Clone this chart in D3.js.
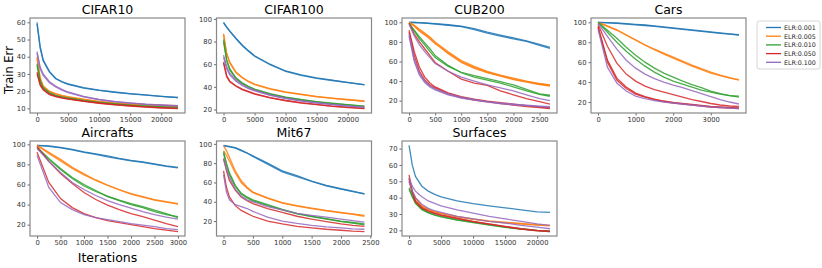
<!DOCTYPE html>
<html>
<head>
<meta charset="utf-8">
<script src="https://cdn.jsdelivr.net/npm/d3@7"></script>
<style>
  body { margin: 0; background: #fff; }
  text { font-family: "DejaVu Sans", sans-serif; }
</style>
</head>
<body>
<div class="chart"></div>
<script>
// ELR series shared by every panel
var elrLabels = ["ELR:0.001", "ELR:0.005", "ELR:0.010", "ELR:0.050", "ELR:0.100"];
var elrColors = ["#1f77b4", "#ff7f0e", "#2ca02c", "#d62728", "#9467bd"];

// Training error per dataset: one entry per ELR, each holding the runs
var cifar10Iter = [0, 500, 1000, 2000, 3000, 4000, 5000, 7500, 10000, 12500, 15000, 17500, 20000, 22700];
var cifar10Err = [
  [[60, 46, 38, 31.5, 27.5, 25.5, 24.2, 22, 20.6, 19.5, 18.6, 17.8, 17, 16.3],
   [59, 45, 37.5, 31, 27.2, 25.3, 24, 21.8, 20.4, 19.3, 18.4, 17.7, 16.9, 16.2]],
  [[40, 28, 23, 20, 18.5, 17.5, 16.8, 15.3, 14, 13.2, 12.6, 12.2, 11.8, 11.5],
   [39, 27, 22.5, 19.7, 18.2, 17.2, 16.5, 15, 13.8, 12.9, 12.3, 11.9, 11.5, 11.2]],
  [[36, 26, 22, 19, 17.5, 16.7, 16, 14.6, 13.5, 12.6, 11.9, 11.3, 10.9, 10.6],
   [35, 25.5, 21.7, 18.8, 17.3, 16.5, 15.8, 14.4, 13.3, 12.4, 11.7, 11.2, 10.8, 10.4]],
  [[31, 24, 21, 18.2, 17, 16.2, 15.5, 14.2, 13.1, 12.2, 11.5, 10.9, 10.4, 10],
   [30, 23.5, 20.7, 18, 16.8, 16, 15.3, 14, 12.9, 12, 11.3, 10.7, 10.2, 9.8]],
  [[43, 34, 30, 25.5, 23, 21, 19.5, 17, 15.2, 14, 13.2, 12.5, 12, 11.5],
   [42, 33, 29, 24.8, 22.4, 20.5, 19.1, 16.7, 15, 13.8, 13, 12.3, 11.8, 11.3]]
];

var cifar100Iter = [0, 500, 1000, 2000, 3000, 4000, 5000, 7500, 10000, 12500, 15000, 17500, 20000, 22700];
var cifar100Err = [
  [[97, 93, 89.5, 83, 77, 72, 67.5, 60, 54, 50.5, 48, 46, 44, 42],
   [96.5, 92.5, 89, 82.5, 76.5, 71.5, 67, 59.5, 53.7, 50.2, 47.5, 45.6, 43.7, 41.8]],
  [[87, 70, 62, 53, 48.5, 45, 42.5, 38.5, 35.5, 33.5, 31.5, 30, 28.8, 27.5],
   [86, 69, 61, 52.3, 48, 44.5, 42, 38, 35.2, 33.2, 31.2, 29.8, 28.5, 27.2]],
  [[82, 64, 56, 48, 43.5, 40.5, 38, 34, 31, 28.8, 27, 25.5, 24.2, 23],
   [80, 63, 55, 47.3, 43, 40, 37.5, 33.6, 30.6, 28.5, 26.7, 25.2, 24, 22.7]],
  [[62, 50, 45, 41, 38, 36, 34, 30.5, 28, 26, 24.5, 23, 22, 21],
   [61, 49, 44.5, 40.5, 37.5, 35.5, 33.6, 30.2, 27.7, 25.7, 24.2, 22.8, 21.7, 20.7]],
  [[68, 58, 52, 46, 42, 39, 37, 33, 30, 27.8, 26, 24.5, 23.2, 22],
   [66, 56, 50.5, 45, 41.2, 38.4, 36.4, 32.5, 29.6, 27.4, 25.7, 24.2, 23, 21.8]]
];

var cub200Iter = [0, 100, 200, 300, 400, 500, 750, 1000, 1250, 1500, 1750, 2000, 2250, 2500, 2700];
var cub200Err = [
  [[100, 99.8, 99.6, 99.3, 99, 98.6, 97.5, 96, 93.5, 90, 87, 84, 81, 77.5, 74.5],
   [100, 99.8, 99.5, 99.2, 98.8, 98.3, 97, 95.5, 92.5, 89, 86, 83, 80.5, 76.5, 73.5]],
  [[100, 97, 93, 89, 85, 80, 70, 61, 55, 50, 46, 43, 40, 37.5, 36],
   [100, 96, 91, 87, 83, 78, 69, 60, 54, 49, 45.5, 42, 39.5, 37, 35.5],
   [100, 96.5, 92, 88, 84, 79, 68, 59, 53, 48.5, 45, 41.5, 39, 36.5, 34.8]],
  [[99, 92, 85, 79, 73, 66, 56, 48.5, 44, 41, 38, 34, 30, 26.5, 24.5],
   [99, 91, 83, 77, 70, 64, 55, 49, 45.5, 42.5, 39.5, 36, 31.5, 27, 25.5]],
  [[99, 88, 80, 73, 66, 59, 50, 42, 38, 35.5, 30, 26, 22, 19, 16.5],
   [92, 70, 54, 44, 38, 34, 28, 24, 21.5, 19.5, 18, 16.5, 15, 13.5, 12.5],
   [90, 66, 50, 41, 36, 33, 27, 23, 20.5, 19, 17, 15.5, 14, 13, 11.8]],
  [[98, 86, 77, 70, 64, 58, 50, 44, 40, 36, 33, 30, 26, 22, 20],
   [88, 62, 48, 40, 35, 32, 27, 23.5, 21, 19, 17.5, 16.5, 15.5, 14.5, 13.8],
   [86, 60, 46, 38.5, 34, 31, 26, 22.5, 20.5, 18.5, 17, 15.8, 15, 14, 13.2]]
];

var carsIter = [0, 250, 500, 750, 1000, 1250, 1500, 1750, 2000, 2250, 2500, 2750, 3000, 3250, 3500, 3750];
var carsErr = [
  [[100, 99.7, 99.3, 98.7, 98, 97.3, 96.5, 95.5, 94.5, 93.5, 92.5, 91.5, 90.5, 89.5, 88.5, 87.5],
   [100, 99.5, 99, 98.3, 97.5, 96.8, 96, 95, 94, 93, 92, 91, 90, 89, 88.2, 87.2]],
  [[100, 96.5, 92.5, 87.5, 82.5, 77.5, 73, 69, 65, 61, 57, 53.5, 50, 47, 44.5, 42],
   [100, 96, 92, 87, 82, 77, 72.5, 68, 64, 60, 56, 52.5, 49, 46.5, 44, 42.5]],
  [[100, 92, 84, 75, 67, 60, 54, 49, 45, 41, 37.5, 34.5, 31, 28.5, 26.5, 25],
   [100, 90, 80, 71, 63, 56, 50, 45, 41, 38, 35, 32, 30, 28, 26.5, 26]],
  [[98, 76, 59, 48, 41, 36, 32.5, 30, 27.5, 25, 22.5, 20.5, 18.5, 17, 16, 15.5],
   [96, 62, 44, 35, 29, 25.5, 23, 21, 19.5, 18.5, 17.5, 16.5, 15.5, 15, 14.5, 14],
   [95, 60, 42, 33.5, 28, 25, 22.5, 20.5, 19, 18, 17, 16, 15, 14.5, 14, 13.3]],
  [[99, 86, 73, 62, 54, 48, 43.5, 40, 37, 34.5, 31.5, 28.5, 25.5, 22.5, 20, 18],
   [93, 55, 39, 31, 26, 23.5, 21.5, 20, 19, 18, 17, 16, 15, 14.5, 14, 13.5]]
];

var aircraftsIter = [0, 250, 500, 750, 1000, 1250, 1500, 1750, 2000, 2250, 2500, 2750, 3000];
var aircraftsErr = [
  [[99, 98.5, 97, 95, 92.5, 90.5, 88.5, 86, 84, 82.5, 80.5, 78.5, 77],
   [99, 98, 96.5, 94.5, 92, 90, 87.5, 85.5, 83.5, 82, 80, 78, 76.5]],
  [[99, 92, 85, 77, 70.5, 64.5, 59.5, 55, 51, 48, 45, 43, 41],
   [99, 91, 83.5, 76, 69.5, 64, 59, 54.5, 50.5, 47.5, 44.5, 42.5, 40.5]],
  [[97, 86, 76, 67, 60, 54, 48, 44, 40, 37, 33, 30, 28],
   [96, 85, 75, 66, 58.5, 53, 48.5, 44.5, 41, 38, 34.5, 31, 27]],
  [[98, 83, 71, 61, 52, 45, 39.5, 35, 31, 28, 24.5, 21, 18],
   [92, 62, 46, 37, 31, 27, 24, 22, 20, 18, 16, 14.5, 13]],
  [[96, 83, 72, 62, 55, 49, 44, 40, 36.5, 33, 30, 27.5, 25.5],
   [89, 57, 42, 35, 30, 27, 25, 23, 21, 19.5, 18, 16, 15]]
];

var mit67Iter = [0, 50, 100, 200, 300, 400, 500, 750, 1000, 1250, 1500, 1750, 2000, 2200, 2400];
var mit67Err = [
  [[98, 97.5, 97, 95.5, 93, 90.5, 87.5, 80, 72, 67, 61.5, 57, 53.5, 51, 48],
   [98.5, 98, 97.5, 96, 93.5, 90.5, 87, 79, 71, 66, 61, 56.5, 53, 50.5, 48.5]],
  [[98, 93, 86, 72, 62, 55, 50, 44, 39, 36, 33.5, 31, 29, 27.5, 26],
   [93, 88, 82, 70, 60, 54, 49.5, 43.5, 38.5, 35.5, 33, 30.5, 28.5, 27, 25]],
  [[92, 80, 70, 57, 49, 45, 42, 37, 32, 28, 25, 22.5, 20, 18.5, 17],
   [90, 78, 68, 56, 48, 44, 41, 36, 31.5, 27.5, 24.5, 22, 19.5, 18, 16]],
  [[85, 72, 62, 52, 45, 41, 38, 33, 29, 25, 22, 19.5, 17, 15.5, 14.5],
   [72, 55, 45, 36, 31, 28, 25, 20, 17, 14.5, 13, 11.5, 10.5, 9.5, 9]],
  [[84, 74, 65, 53, 46, 42, 40, 35, 31.5, 28, 26, 24, 22, 20.5, 19],
   [68, 50, 42, 37, 35, 33, 30, 24, 20, 17.5, 15.5, 14, 13, 12, 11.5]]
];

var surfacesIter = [0, 500, 1000, 2000, 3000, 4000, 5000, 7500, 10000, 12500, 15000, 17500, 20000, 22000];
var surfacesErr = [
  [[72, 60, 53, 47, 44, 42, 40.5, 38, 36.3, 35, 33.8, 32.5, 31.3, 31]],
  [[51, 44, 40, 35, 33, 31.5, 30.5, 28.5, 27, 25.8, 25, 24.2, 23.5, 23],
   [50, 43, 39.5, 34.6, 32.6, 31.2, 30.2, 28.2, 26.7, 25.5, 24.6, 23.9, 23.2, 22.7]],
  [[46, 41, 37, 33, 31, 29.5, 28.5, 26.5, 25, 23.5, 22, 21, 20, 19.5],
   [45, 40.5, 36.5, 32.7, 30.7, 29.3, 28.3, 26.3, 24.8, 23.2, 21.8, 20.8, 19.8, 19.3]],
  [[54, 44, 38, 34, 32, 30.5, 29.5, 27.5, 25.5, 24, 22.5, 21, 20, 19.5],
   [52, 43, 37.5, 33.6, 31.7, 30.2, 29.2, 27.2, 25.3, 23.8, 22.3, 20.8, 19.7, 19.2]],
  [[52, 47, 44, 40.5, 38, 36.5, 35, 32.5, 30.5, 28.5, 27, 25.5, 24, 23],
   [50, 44, 40, 36, 33.5, 32, 31, 28.5, 27, 25.5, 24.5, 23, 22, 21]]
];

// Tick values
var ticks20k = [0, 5000, 10000, 15000, 20000];
var ticksErr100 = [20, 40, 60, 80, 100];

var panels = [
  {title: "CIFAR10", iter: cifar10Iter, err: cifar10Err, xt: ticks20k, yt: [10, 20, 30, 40, 50, 60], col: 0, row: 0},
  {title: "CIFAR100", iter: cifar100Iter, err: cifar100Err, xt: ticks20k, yt: ticksErr100, col: 1, row: 0},
  {title: "CUB200", iter: cub200Iter, err: cub200Err, xt: [0, 500, 1000, 1500, 2000, 2500], yt: ticksErr100, col: 2, row: 0},
  {title: "Cars", iter: carsIter, err: carsErr, xt: [0, 1000, 2000, 3000], yt: ticksErr100, col: 3, row: 0},
  {title: "Aircrafts", iter: aircraftsIter, err: aircraftsErr, xt: [0, 500, 1000, 1500, 2000, 2500, 3000], yt: ticksErr100, col: 0, row: 1},
  {title: "Mit67", iter: mit67Iter, err: mit67Err, xt: [0, 500, 1000, 1500, 2000, 2500], yt: ticksErr100, col: 1, row: 1},
  {title: "Surfaces", iter: surfacesIter, err: surfacesErr, xt: ticks20k, yt: [20, 30, 40, 50, 60, 70], col: 2, row: 1}
];

// Layout
var svgWidth = 822, svgHeight = 268;
var colLeft = [30, 216.5, 402, 591];
var rowTop = [18, 141];
var plotW = 155, plotH = 95;

var svg = d3.select(".chart")
  .append("svg")
  .attr("width", svgWidth)
  .attr("height", svgHeight);

panels.forEach(function (p, i) {
  var left = colLeft[p.col], top = rowTop[p.row];

  // matplotlib style 5% margins around the data
  var allY = d3.merge(d3.merge(p.err));
  var xExt = d3.extent(p.iter), yExt = d3.extent(allY);
  var xPad = (xExt[1] - xExt[0]) * 0.05, yPad = (yExt[1] - yExt[0]) * 0.05;

  var xScale = d3.scaleLinear().domain([xExt[0] - xPad, xExt[1] + xPad]).range([0, plotW]);
  var yScale = d3.scaleLinear().domain([yExt[0] - yPad, yExt[1] + yPad]).range([plotH, 0]);

  var g = svg.append("g").attr("transform", `translate(${left}, ${top})`);

  g.append("clipPath").attr("id", "clip" + i)
    .append("rect").attr("width", plotW).attr("height", plotH);

  var line = d3.line()
    .x(function (d, j) { return xScale(p.iter[j]); })
    .y(function (d) { return yScale(d); });

  var lines = g.append("g").attr("clip-path", `url(#clip${i})`);
  p.err.forEach(function (runs, s) {
    runs.forEach(function (run) {
      lines.append("path")
        .datum(run)
        .attr("d", line)
        .attr("fill", "none")
        .attr("stroke", elrColors[s])
        .attr("stroke-width", 1.3)
        .attr("stroke-opacity", 0.85);
    });
  });

  // Axes
  var xAxis = d3.axisBottom(xScale).tickValues(p.xt).tickSize(2.5).tickPadding(2).tickFormat(d3.format("d"));
  var yAxis = d3.axisLeft(yScale).tickValues(p.yt).tickSize(2.5).tickPadding(2).tickFormat(d3.format("d"));

  var gx = g.append("g").attr("transform", `translate(0, ${plotH})`).call(xAxis);
  var gy = g.append("g").call(yAxis);
  [gx, gy].forEach(function (a) {
    a.select(".domain").remove();
    a.selectAll("line").attr("stroke", "#444").attr("stroke-width", 0.8);
    a.selectAll("text").attr("font-size", "6.8px").attr("fill", "#333")
      .attr("font-family", "DejaVu Sans, sans-serif");
  });

  // Frame
  g.append("rect")
    .attr("width", plotW).attr("height", plotH)
    .attr("fill", "none").attr("stroke", "#888").attr("stroke-width", 1.2);

  // Title
  g.append("text")
    .attr("x", plotW / 2).attr("y", -4.5)
    .attr("text-anchor", "middle")
    .attr("font-size", "12.5px")
    .attr("fill", "#000")
    .text(p.title);
});

// Axis labels
svg.append("text")
  .attr("transform", "translate(13, 70) rotate(-90)")
  .attr("text-anchor", "middle")
  .attr("font-size", "11.5px")
  .text("Train Err");

svg.append("text")
  .attr("x", 107.5).attr("y", 262)
  .attr("text-anchor", "middle")
  .attr("font-size", "12.5px")
  .text("Iterations");

// Legend
var legend = svg.append("g").attr("transform", "translate(757, 21)");
legend.append("rect")
  .attr("width", 63).attr("height", 48).attr("rx", 2)
  .attr("fill", "#fff").attr("stroke", "#ccc").attr("stroke-width", 0.8);

elrLabels.forEach(function (lab, k) {
  var y = 6.5 + k * 8.7;
  legend.append("line")
    .attr("x1", 9).attr("x2", 24).attr("y1", y).attr("y2", y)
    .attr("stroke", elrColors[k]).attr("stroke-width", 1.3);
  legend.append("text")
    .attr("x", 27).attr("y", y + 2.3)
    .attr("font-size", "6.3px").attr("fill", "#222")
    .text(lab);
});
</script>
</body>
</html>
